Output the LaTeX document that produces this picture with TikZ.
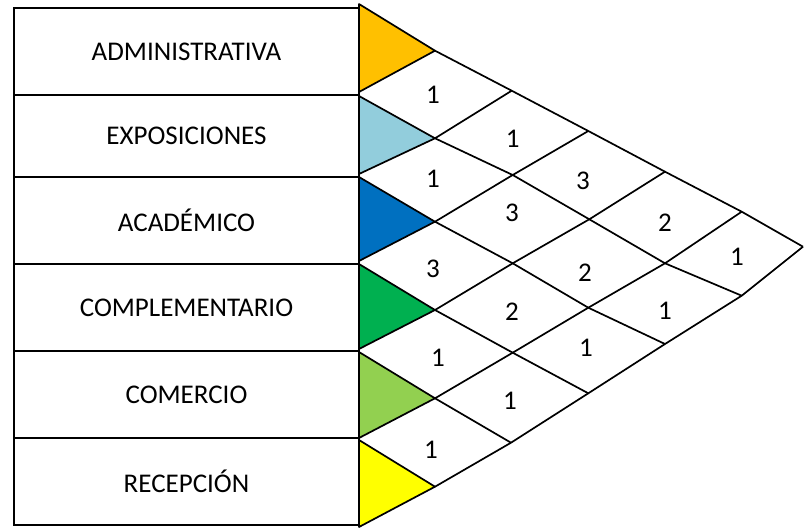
\documentclass[tikz,border=0pt]{standalone}
\usepackage{fontspec}
\setmainfont{Carlito}
\usepackage{xcolor}
\usetikzlibrary{calc}
\definecolor{cAdm}{HTML}{FFC000}
\definecolor{cExp}{HTML}{92CDDC}
\definecolor{cAca}{HTML}{0070C0}
\definecolor{cCom}{HTML}{00B050}
\definecolor{cCmr}{HTML}{92D050}
\definecolor{cRec}{HTML}{FFFF00}

\begin{document}
\begin{tikzpicture}[x=1pt,y=-1pt,font=\fontsize{27}{32}\selectfont,
  rowbox/.style={draw,line width=1.8pt,minimum width=345pt,inner sep=0pt},
  tri/.style={draw,line width=1.7pt,line join=round},
  grid/.style={line width=1.7pt,line join=round},
  num/.style={inner sep=0pt}]
  \useasboundingbox (0,0) rectangle (805,529);
  % rows with their labels
  \foreach \i/\t/\b/\txt in {0/8/95/ADMINISTRATIVA,1/95/177/EXPOSICIONES,2/177/264/ACADÉMICO,3/264/351/COMPLEMENTARIO,4/351/438/COMERCIO,5/438/525/RECEPCIÓN}{
    \pgfmathsetmacro\h{\b-\t}
    \node[rowbox,minimum height=\h pt] (row\i) at (186.5,{(\t+\b)/2}) {\txt};
  }
  % lattice points, pii = apex of row i
  \foreach \n/\x/\y in {p00/435/50.7,p11/435/138.3,p22/435/221.7,p33/435/310,p44/435/398.3,p55/435/486.7,
    p01/511.7/90.7,p12/512.7/175,p23/512.7/263.3,p34/512.7/352.7,p45/511/442.7,
    p02/588.3/131,p13/589.3/219.3,p24/588.3/307.7,p35/588.3/393.3,
    p03/665/171.7,p14/665/263.3,p25/665/344,
    p04/741.7/211.7,p15/741.7/295.7,p05/803/246.7}
    \coordinate (\n) at (\x,\y);
  % coloured triangles
  \foreach \i/\t/\b/\c in {0/4/92/cAdm,1/96/174/cExp,2/177/261/cAca,3/264/349/cCom,4/352/438/cCmr,5/440/527/cRec}{
    \coordinate (t\i) at (359,\t);
    \coordinate (b\i) at (359,\b);
    \filldraw[tri,fill=\c] (t\i) -- (p\i\i) -- (b\i) -- cycle;
  }
  % down-right lines
  \draw[grid] (p00)--(p01)--(p02)--(p03)--(p04)--(p05);
  \draw[grid] (p11)--(p12)--(p13)--(p14)--(p15);
  \draw[grid] (p22)--(p23)--(p24)--(p25);
  \draw[grid] (p33)--(p34)--(p35);
  \draw[grid] (p44)--(p45);
  % up-right lines
  \draw[grid] (p11)--(p01);
  \draw[grid] (p22)--(p12)--(p02);
  \draw[grid] (p33)--(p23)--(p13)--(p03);
  \draw[grid] (p44)--(p34)--(p24)--(p14)--(p04);
  \draw[grid] (p55)--(p45)--(p35)--(p25)--(p15)--(p05);
  % values
  \foreach \n/\x/\y/\v in {01/433/95/1,12/433/179/1,23/433/269/3,34/438/358/1,45/431/450/1,
    02/512.7/139/1,13/512/213/3,24/512/311.7/2,35/510/401/1,
    03/583/180.5/3,14/585/273/2,25/586/348/1,
    04/665/223/2,15/665/311/1,05/737/257/1}
    \node[num] (c\n) at (\x,\y) {\v};
\end{tikzpicture}
\end{document}
